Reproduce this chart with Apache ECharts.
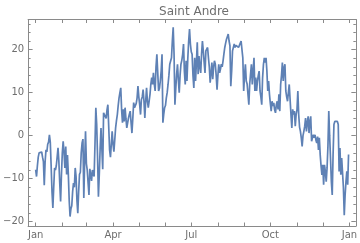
<!DOCTYPE html>
<html><head><meta charset="utf-8">
<script src="https://cdn.jsdelivr.net/npm/echarts@6/dist/echarts.min.js"></script>
<style>html,body{margin:0;padding:0;background:#fff}#c{width:360px;height:243px}</style>
</head><body><div id="c"></div>
<script>
const chartTitle = 'Saint Andre';
const monthStarts = [0,31,59,90,120,151,181,212,243,273,304,334,365];
const labelDays = [0,90,181,273,365];
const labelNames = ['Jan','Apr','Jul','Oct','Jan'];
const yTicks = [-20,-10,0,10,20];

const jan = [-7.9,-9.5,-7,-5,-4,-3.6,-4.2,-3.8,-5,-6,-11.5,-6,-3.3,-3.8,-2,-1.5,0.2,-1.5,-7,-13,-16.8,-12,-7.5,-8,-7,-5,-2.8,-6,-11,-15.3,-9];
const feb = [-4,-1.3,-4,-7.5,-2.5,-9,-4.5,-9,-15,-18.8,-17,-16.3,-13,-11,-12,-7.5,-9.5,-15,-18,-13,-9,-8.5,-4,-1.7,-0.8,-14.5,-6,1];
const mar = [-6.5,-8,-11,-13.8,-7.7,-9,-10.5,-8,-7.7,-9.5,-2,6.5,2.6,-5,-14.2,-9,-3,1.8,1.5,-7.8,5.3,5,5.5,4,6,7.2,2,-3.3,-5,-2,1];
const apr = [-2,-3.7,-1,1.8,3.5,4.9,7,8.8,10,11.1,6,3,6.1,3.3,6.5,4,1.8,3,4.1,5,5.7,3,0.6,4,7.7,6.5,6.5,7.5,8.8,11.5];
const may = [9,7.2,4.9,8.4,9,10.7,8,4.1,8,11.1,8,6.5,8,9.6,12,13.5,11.9,14.6,12,10.4,16,18.9,19.3,10.4,11,12.7,15,18.9,3,5,6.5];
const jun = [7,8.8,10,11.9,14,16.6,17,18.1,22,25.2,18.9,7.2,11,14.3,16.6,13,10,14,16.6,17.5,18.9,21.3,15,11.9,17.4,12.7,18,22,24.8,21.3];
const jul = [19.5,18.9,14,11.1,18.1,12.7,17,21.7,14.3,18.5,16,14.6,19,22,19.7,17,14.6,19.7,19.5,20.5,18.1,16,12.3,14.5,17,13.1,16,17.4,16.6,14,10.7];
const aug = [14,16.6,14.6,15.5,16.6,16,17.4,19,20.5,21.5,22.4,23,23.6,22,20.9,11.5,15,19.7,20,21.3,20.5,21,20.8,21.3,20.5,21,21.3,22,20,18.1,10.4];
const sep = [14,16.6,12.7,12,11.9,7.2,12,14.3,16.6,11.9,15,18.1,10.4,13.5,10.4,12.7,14,15,10.4,9,7.2,13.5,16.6,18.1,17,18.1,15,10.4,12.7,9.6];
const oct = [7.5,5.7,8,6.9,7.6,6,5.3,7.2,8,6.1,9.6,5.7,11.9,14,17,12.7,15.8,16.6,10.4,9,8,10,11.9,11.9,4.9,1.8,6.1,4.9,5.7,2.2,4.9];
const nov = [6,10.4,4.9,2,1,-0.5,-2.5,0,1,2.2,4.1,1,3,4.5,0.6,3.3,4.5,-1.3,-0.5,0.2,-0.5,0.2,-1,-1.7,-0.2,-3.3,-0.5,-4.4,-7,-9.1];
const dec = [-6.8,-11.4,-6.8,-8.3,-10.7,-7.5,-2.5,5.7,0,-5.2,-10.7,-13.8,-4.4,2.6,3.3,3,3.3,3.3,2.6,-8.3,-2.9,-9.1,-5.2,-5.4,-12,-18.5,-13.8,-10.7,-8.3,-11.4,-4.4];

const temps = [].concat(jan,feb,mar,apr,may,jun,jul,aug,sep,oct,nov,dec);
const seriesData = temps.map((v,i)=>[i,v]);

const frameColor = '#8a8a8a';
const textColor = '#6e6e6e';
const xMin = -8.8, xMax = 372.5, yMin = -21, yMax = 27;
const font = 'DejaVu Sans';

function xAx(pos, showLabel){
  return {
    type:'value', position:pos, min:xMin, max:xMax,
    axisLine:{show:true,onZero:false,lineStyle:{color:frameColor,width:1}},
    axisTick:{show:true,inside:true,length:3.5,customValues:monthStarts,lineStyle:{color:frameColor}},
    axisLabel:{show:showLabel,customValues:labelDays,margin:4,color:textColor,fontSize:10,fontFamily:font,
      formatter:(v)=>{const k=labelDays.indexOf(Math.round(v));return k>=0?labelNames[k]:'';}},
    splitLine:{show:false}
  };
}
function yAx(pos, showLabel){
  return {
    type:'value', position:pos, min:yMin, max:yMax,
    axisLine:{show:true,onZero:false,lineStyle:{color:frameColor,width:1}},
    axisTick:{show:true,inside:true,length:4.5,customValues:yTicks,lineStyle:{color:frameColor}},
    minorTick:{show:true,splitNumber:5,length:2.5,lineStyle:{color:frameColor}},
    axisLabel:{show:showLabel,customValues:yTicks,margin:4,color:textColor,fontSize:10,fontFamily:font,
      formatter:(v)=>String(v).replace('-','\u2212')},
    splitLine:{show:false}, minorSplitLine:{show:false}
  };
}

const chart = echarts.init(document.getElementById('c'),null,{renderer:'canvas'});
chart.setOption({
  animation:false,
  backgroundColor:'#fff',
  title:{text:chartTitle,left:189,textAlign:'center',top:1,textStyle:{color:textColor,fontSize:12,fontWeight:'normal',fontFamily:font}},
  grid:{left:22,right:3,top:19.5,bottom:17,containLabel:false},
  xAxis:[xAx('bottom',true), xAx('top',false)],
  yAxis:[yAx('left',true), yAx('right',false)],
  series:[{type:'line',xAxisIndex:0,yAxisIndex:0,data:seriesData,showSymbol:false,symbol:'none',
    lineStyle:{color:'#5E81B5',width:1.7},itemStyle:{color:'#5E81B5'}}]
});
</script></body></html>
